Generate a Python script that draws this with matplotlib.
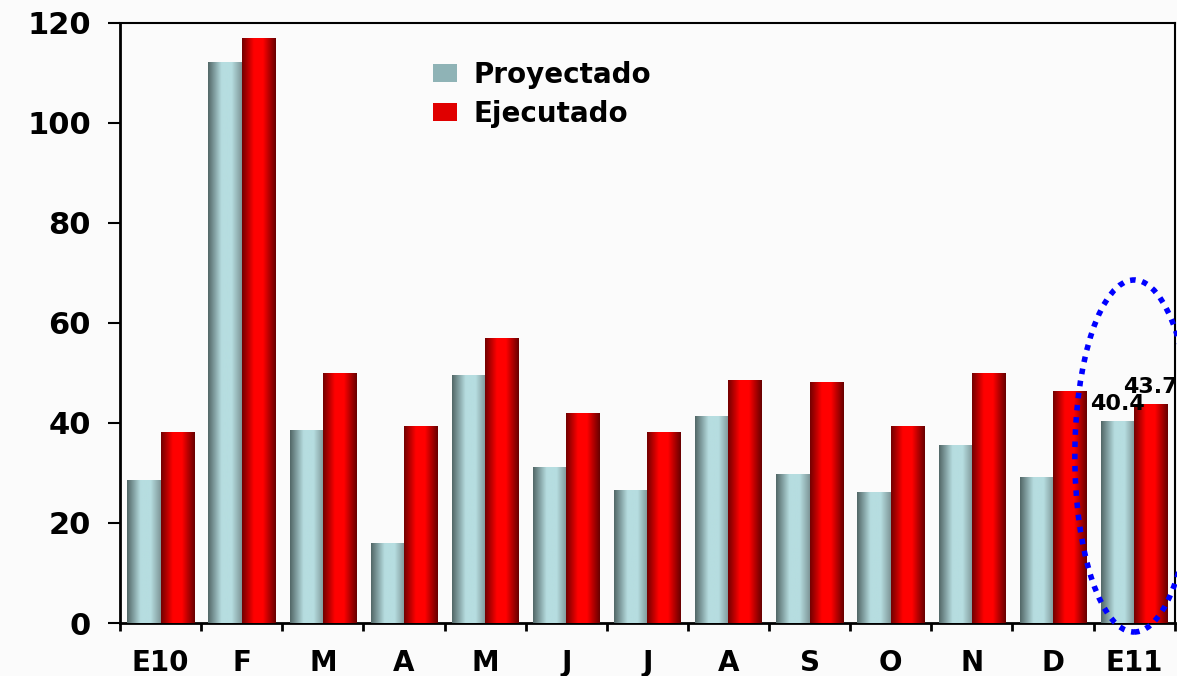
import numpy as np
import matplotlib.pyplot as plt
from matplotlib.colors import LinearSegmentedColormap
from matplotlib.patches import Ellipse

# data
months = ["E10", "F", "M", "A", "M", "J", "J", "A", "S", "O", "N", "D", "E11"]
proyectado = [28.5, 112.1, 38.5, 16.0, 49.5, 31.1, 26.6, 41.4, 29.7, 26.2, 35.5, 29.2, 40.4]
ejecutado = [38.1, 117.0, 49.9, 39.3, 56.9, 41.9, 38.1, 48.5, 48.1, 39.3, 49.9, 46.3, 43.7]
labels_last = ["40.4", "43.7"]

cm_proy = LinearSegmentedColormap.from_list(
    "proy", [(0, "#536868"), (0.4, "#b6dde0"), (0.7, "#b6dde0"), (1, "#7f9799")])
cm_ejec = LinearSegmentedColormap.from_list(
    "ejec", [(0, "#740000"), (0.35, "#ff0000"), (0.62, "#ff0000"), (1, "#680000")])

bg = "#fbfbfb"
fig = plt.figure(figsize=(11.77, 6.76), dpi=100, facecolor=bg)
ax = fig.add_axes([0.102, 0.0784, 0.896, 0.8876], facecolor=bg)

x = np.arange(len(months))
w = 0.41
b1 = ax.bar(x - w / 2, proyectado, w, color="#8fb3b6", label="Proyectado", zorder=2)
b2 = ax.bar(x + w / 2, ejecutado, w, color="#e00000", label="Ejecutado", zorder=2)

# horizontal gradient on every bar
grad = np.linspace(0, 1, 64).reshape(1, -1)
for bars, cmap in ((b1, cm_proy), (b2, cm_ejec)):
    for p in bars:
        x0, y0 = p.get_x(), p.get_y()
        im = ax.imshow(grad, cmap=cmap, aspect="auto", zorder=3,
                       extent=[x0, x0 + p.get_width(), y0, y0 + p.get_height()])
        im.set_clip_path(p)

ax.set_xlim(-0.5, len(months) - 0.5)
ax.set_ylim(0, 120)
ax.set_yticks(range(0, 121, 20))

ax.set_xticks(x)
ax.set_xticklabels(months)
ax.set_xticks(np.arange(-0.5, len(months), 1), minor=True)
ax.tick_params(axis="x", which="major", length=0, pad=19)
ax.tick_params(axis="x", which="minor", direction="out", length=6, width=2)
ax.tick_params(axis="y", direction="out", length=9, width=1.5, pad=12)
for t in ax.get_xticklabels():
    t.set_fontsize(20)
    t.set_fontweight("bold")
for t in ax.get_yticklabels():
    t.set_fontsize(22)
    t.set_fontweight("bold")

for s in ("left", "bottom"):
    ax.spines[s].set_linewidth(2)
for s in ("top", "right"):
    ax.spines[s].set_linewidth(1.5)

# value labels for the last month
last = len(months) - 1
ax.text(last - w / 2, proyectado[-1] + 1.4, labels_last[0], ha="center", va="bottom",
        fontsize=16, fontweight="bold", zorder=5, clip_on=False)
ax.text(last + w / 2, ejecutado[-1] + 1.4, labels_last[1], ha="center", va="bottom",
        fontsize=16, fontweight="bold", zorder=5, clip_on=False)

# dotted ellipse around the last month
ell = Ellipse((last, 33.4), 1.46, 70.4, fill=False, edgecolor="#0000ff",
              linewidth=4, linestyle=(0, (1, 1.2)), zorder=6, clip_on=False)
ax.add_patch(ell)

leg = ax.legend(loc="upper left", bbox_to_anchor=(0.297, 0.937), frameon=False,
                prop={"size": 20, "weight": "bold"}, handlelength=0.85,
                handleheight=0.6, handletextpad=0.6, labelspacing=0.4,
                borderpad=0, borderaxespad=0)

fig.savefig("out.png", dpi=100, facecolor=bg)
